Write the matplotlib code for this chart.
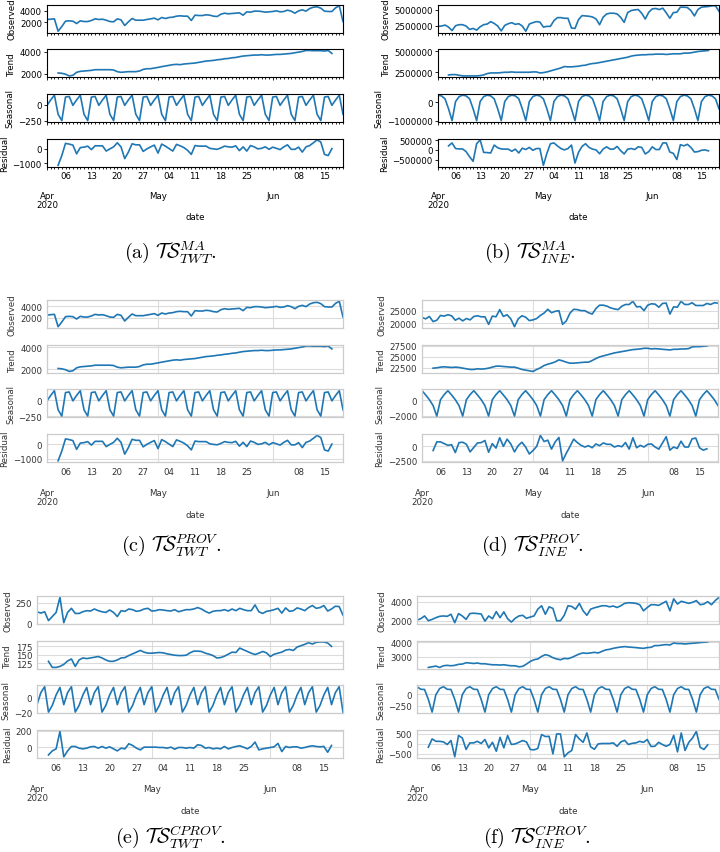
import numpy as np
import pandas as pd
import matplotlib
matplotlib.use("Agg")
import matplotlib.pyplot as plt
import matplotlib.dates as mdates
from matplotlib.ticker import FuncFormatter

plt.rcParams["mathtext.fontset"] = "cm"

nan = np.nan
DATES = pd.date_range("2020-04-01", "2020-06-20", freq="D")
COMPONENTS = ["Observed", "Trend", "Seasonal", "Residual"]

# ---- TS_TWT (panels a and c) ----
OBS_A = [2460, 2510, 2570, 450, 1260, 2170, 2230, 2170, 1770, 2230,
         2110, 2110, 2290, 2570, 2460, 2510, 2340, 2110, 2060, 2570,
         2400, 1430, 2060, 2630, 2340, 2340, 2340, 2460, 2570, 2690,
         2400, 2800, 2630, 2800, 2860, 3030, 3090, 3030, 3030, 2290,
         3200, 3140, 3140, 3260, 3200, 3030, 2970, 3370, 3540, 3430,
         3490, 3540, 3600, 3200, 3770, 3710, 3890, 3890, 3830, 3710,
         3770, 3830, 3940, 3770, 3830, 4060, 3890, 3540, 3940, 4110,
         3890, 4340, 4570, 4630, 4400, 3890, 3830, 3830, 4460, 4810, 2100]
TREND_A = [nan, nan, nan,
           2060, 2030, 1950, 1790, 1850, 2120, 2210,
           2240, 2270, 2300, 2360, 2360, 2360, 2360, 2360, 2330, 2180,
           2120, 2150, 2180, 2180, 2180, 2240, 2390, 2450, 2450, 2510,
           2570, 2640, 2700, 2760, 2820, 2850, 2820, 2880, 2910, 2940,
           2970, 3030, 3090, 3150, 3180, 3210, 3270, 3300, 3360, 3390,
           3450, 3480, 3550, 3610, 3640, 3670, 3700, 3700, 3730, 3700,
           3700, 3730, 3760, 3760, 3790, 3820, 3850, 3910, 3970, 4030,
           4120, 4120, 4100, 4100, 4100, 4070, 4120, 3850,
           nan, nan, nan]
SEAS_A = [-10, 75, 150, -150, -250, 120, 130,
          -10, 75, 150, -150, -250, 120, 130,
          -10, 75, 150, -150, -250, 120, 130,
          -10, 75, 150, -150, -250, 120, 130,
          -10, 75, 150, -150, -250, 120, 130,
          -10, 75, 150, -150, -250, 120, 130,
          -10, 75, 150, -150, -250, 120, 130,
          -10, 75, 150, -150, -250, 120, 130,
          -10, 75, 150, -150, -250, 120, 130,
          -10, 75, 150, -150, -250, 120, 130,
          -10, 75, 150, -150, -250, 120, 130,
          -10, 75, 150, -150]
RESID_A = [nan, nan, nan,
           -1150, -480, 360, 310, 240, -360, 70,
           100, 170, -70, 190, 190, 190, -170, -20, 120, 400,
           120, -690, -240, 330, 260, 260, -190, -20, 120, 240,
           -310, 310, 170, 0, -170, 290, 190, 70, -120, -400,
           210, 170, 170, 170, 20, -20, -50, 50, 170, 120,
           100, 190, -140, 120, -170, 210, 120, -20, 20, 120,
           -50, 100, 20, -70, 120, 260, -50, -50, 100, -240,
           120, 210, 400, 600, 450, -400, -480, 0,
           nan, nan, nan]
YTICKS_A = [[2000, 4000], [2000, 4000], [-250, 0], [-1000, 0]]

# ---- TS_INE (panel b) ----
OBS_B = [2.40e6, 2.45e6, 2.60e6, 2.29e6, 1.75e6, 2.50e6, 2.66e6, 2.66e6, 2.45e6, 1.93e6,
         2.08e6, 1.82e6, 2.34e6, 2.66e6, 2.76e6, 3.13e6, 2.86e6, 2.45e6, 1.70e6, 2.55e6,
         2.81e6, 2.97e6, 2.71e6, 2.81e6, 2.45e6, 1.65e6, 2.76e6, 2.97e6, 3.13e6, 3.07e6,
         2.29e6, 2.40e6, 2.40e6, 3.28e6, 3.75e6, 3.75e6, 3.65e6, 3.65e6, 2.14e6, 2.08e6,
         3.44e6, 4.06e6, 4.01e6, 3.96e6, 3.85e6, 3.54e6, 2.66e6, 3.80e6, 4.32e6, 4.43e6,
         4.43e6, 4.32e6, 3.80e6, 3.02e6, 4.53e6, 4.84e6, 4.95e6, 5.00e6, 4.43e6, 3.54e6,
         4.58e6, 5.10e6, 5.16e6, 5.00e6, 5.21e6, 4.48e6, 3.65e6, 4.53e6, 4.58e6, 5.36e6,
         5.36e6, 5.31e6, 4.84e6, 4.01e6, 5.00e6, 5.36e6, 5.42e6, 5.47e6, 5.58e6, 5.57e6, 4.74e6]
TREND_B = [nan, nan, nan,
           2.18e6, 2.22e6, 2.22e6, 2.14e6, 2.06e6, 2.06e6, 2.06e6,
           2.06e6, 2.06e6, 2.10e6, 2.18e6, 2.34e6, 2.42e6, 2.42e6, 2.42e6, 2.46e6, 2.50e6,
           2.50e6, 2.54e6, 2.50e6, 2.50e6, 2.50e6, 2.50e6, 2.50e6, 2.54e6, 2.54e6, 2.42e6,
           2.46e6, 2.54e6, 2.66e6, 2.78e6, 2.90e6, 3.02e6, 3.19e6, 3.15e6, 3.15e6, 3.19e6,
           3.23e6, 3.31e6, 3.35e6, 3.47e6, 3.55e6, 3.59e6, 3.67e6, 3.75e6, 3.83e6, 3.91e6,
           3.99e6, 4.07e6, 4.15e6, 4.23e6, 4.31e6, 4.44e6, 4.52e6, 4.56e6, 4.60e6, 4.60e6,
           4.64e6, 4.64e6, 4.68e6, 4.68e6, 4.68e6, 4.64e6, 4.68e6, 4.72e6, 4.72e6, 4.72e6,
           4.80e6, 4.80e6, 4.84e6, 4.92e6, 5.00e6, 5.04e6, 5.08e6, 5.12e6,
           nan, nan, nan]
SEAS_B = [4.0e5, 3.6e5, 2.0e5, -3.5e5, -1.0e6, 0.5e5, 3.2e5,
          4.0e5, 3.6e5, 2.0e5, -3.5e5, -1.0e6, 0.5e5, 3.2e5,
          4.0e5, 3.6e5, 2.0e5, -3.5e5, -1.0e6, 0.5e5, 3.2e5,
          4.0e5, 3.6e5, 2.0e5, -3.5e5, -1.0e6, 0.5e5, 3.2e5,
          4.0e5, 3.6e5, 2.0e5, -3.5e5, -1.0e6, 0.5e5, 3.2e5,
          4.0e5, 3.6e5, 2.0e5, -3.5e5, -1.0e6, 0.5e5, 3.2e5,
          4.0e5, 3.6e5, 2.0e5, -3.5e5, -1.0e6, 0.5e5, 3.2e5,
          4.0e5, 3.6e5, 2.0e5, -3.5e5, -1.0e6, 0.5e5, 3.2e5,
          4.0e5, 3.6e5, 2.0e5, -3.5e5, -1.0e6, 0.5e5, 3.2e5,
          4.0e5, 3.6e5, 2.0e5, -3.5e5, -1.0e6, 0.5e5, 3.2e5,
          4.0e5, 3.6e5, 2.0e5, -3.5e5, -1.0e6, 0.5e5, 3.2e5,
          4.0e5, 3.6e5, 2.0e5, -3.5e5]
RESID_B = [nan, nan, nan,
           0.21e6, 0.36e6, 0.07e6, 0.05e6, 0.05e6, -0.09e6, -0.36e6,
           -0.59e6, 0.32e6, 0.52e6, -0.13e6, -0.14e6, -0.16e6, 0.25e6, 0.11e6, 0.05e6, 0.04e6,
           0.04e6, -0.07e6, 0.04e6, -0.16e6, 0.09e6, 0.02e6, 0.13e6, -0.02e6, 0.07e6, 0.07e6,
           -0.80e6, -0.18e6, 0.32e6, 0.36e6, 0.21e6, 0.07e6, 0.00e6, 0.07e6, 0.25e6, -0.68e6,
           -0.13e6, 0.18e6, 0.32e6, 0.13e6, 0.04e6, 0.00e6, -0.20e6, 0.04e6, 0.16e6, 0.04e6,
           0.04e6, 0.18e6, -0.04e6, -0.21e6, 0.04e6, 0.07e6, 0.02e6, 0.16e6, 0.13e6, -0.21e6,
           -0.09e6, 0.16e6, 0.02e6, 0.02e6, 0.36e6, 0.36e6, -0.11e6, -0.18e6, -0.50e6, 0.27e6,
           0.21e6, 0.29e6, 0.13e6, -0.11e6, -0.09e6, -0.02e6, 0.00e6, -0.05e6,
           nan, nan, nan]
YTICKS_B = [[2500000, 5000000], [2500000, 5000000], [-1000000, 0],
            [-500000, 0, 500000]]

# ---- TS_INE by province (panel d) ----
OBS_D = [22300, 21760, 22700, 20680, 21220, 23110, 22840, 23380, 22970, 21220,
         22030, 20950, 21890, 21350, 22700, 22970, 22570, 22570, 19590, 22840,
         22570, 25400, 22700, 23380, 21760, 18650, 21760, 22970, 22430, 21080,
         21350, 21890, 23110, 24050, 25540, 24190, 24730, 25000, 19590, 20950,
         24050, 25540, 25400, 25000, 25000, 24190, 23650, 25810, 27160, 27160,
         26760, 26080, 25680, 25400, 26760, 27430, 27430, 28700, 26490, 26620,
         25000, 27160, 27700, 27570, 26350, 27840, 27970, 23650, 26490, 26350,
         28700, 27430, 27430, 28110, 27030, 27030, 27030, 27840, 27430, 28110, 27970]
TREND_D = [nan, nan, nan,
           22420, 22500, 22650, 22730, 22650, 22580, 22650,
           22580, 22420, 22270, 22120, 22120, 22270, 22200, 22270, 22420, 22650,
           22880, 22880, 22800, 22730, 22650, 22650, 22420, 22120, 21970, 21820,
           21670, 22120, 22500, 23030, 23330, 23560, 23860, 24320, 24090, 23790,
           23560, 23560, 23640, 23710, 23790, 23790, 24170, 24620, 25000, 25230,
           25450, 25680, 25910, 26060, 26210, 26360, 26520, 26670, 26740, 26820,
           26970, 26970, 26820, 26890, 26820, 26740, 26670, 26590, 26740, 26740,
           26820, 26820, 26890, 27270, 27350, 27350, 27420, 27500,
           nan, nan, nan]
SEAS_D = [1200, 650, 50, -700, -2050, 50, 700,
          1200, 650, 50, -700, -2050, 50, 700,
          1200, 650, 50, -700, -2050, 50, 700,
          1200, 650, 50, -700, -2050, 50, 700,
          1200, 650, 50, -700, -2050, 50, 700,
          1200, 650, 50, -700, -2050, 50, 700,
          1200, 650, 50, -700, -2050, 50, 700,
          1200, 650, 50, -700, -2050, 50, 700,
          1200, 650, 50, -700, -2050, 50, 700,
          1200, 650, 50, -700, -2050, 50, 700,
          1200, 650, 50, -700, -2050, 50, 700,
          1200, 650, 50, -700]
RESID_D = [nan, nan, nan,
           -760, 700, 700, 410, 120, 230, -1100,
           580, 640, 290, -990, -230, 520, 580, 930, -1050, 410,
           -350, 1400, -60, 1160, 350, -990, 60, 640, -170, -1340,
           -760, -60, 1800, 760, 990, -520, 700, 1450, -2500, -1220,
           -60, 1160, 580, 120, -170, 60, -290, 350, 60, 520,
           290, 290, -170, 60, -120, 580, -520, 1400, -290, 120,
           -170, 290, 350, -170, -520, 520, 1570, -700, -170, -410,
           810, -170, -170, 1220, 1340, -290, -700, -470,
           nan, nan, nan]
YTICKS_D = [[20000, 25000], [22500, 25000, 27500], [-2000, 0], [-2500, 0]]

# ---- TS_TWT by capital of province (panel e) ----
OBS_E = [143, 127, 143, 37, 86, 135, 316, 12, 135, 184,
         123, 123, 143, 156, 152, 176, 156, 143, 135, 164,
         135, 86, 156, 148, 176, 168, 148, 156, 176, 184,
         152, 156, 168, 164, 156, 152, 168, 143, 156, 168,
         168, 176, 193, 176, 148, 127, 148, 156, 156, 168,
         152, 176, 156, 184, 168, 156, 156, 225, 143, 123,
         148, 156, 168, 184, 127, 189, 148, 156, 189, 176,
         156, 193, 217, 184, 193, 217, 152, 176, 209, 205, 102]
TREND_E = [nan, nan, nan,
           131, 113, 113, 116, 122, 132, 138,
           116, 135, 141, 139, 141, 143, 145, 141, 135, 131,
           131, 135, 141, 142, 148, 153, 158, 163, 158, 155,
           155, 156, 157, 156, 153, 151, 149, 148, 148, 149,
           156, 161, 161, 160, 155, 152, 148, 141, 142, 146,
           152, 158, 157, 170, 165, 160, 155, 151, 155, 160,
           156, 145, 152, 155, 158, 164, 166, 163, 173, 177,
           181, 186, 182, 187, 188, 188, 185, 175,
           nan, nan, nan]
SEAS_E = [-9, 7, 15, -19, -10, 4, 14,
          -9, 7, 15, -19, -10, 4, 14,
          -9, 7, 15, -19, -10, 4, 14,
          -9, 7, 15, -19, -10, 4, 14,
          -9, 7, 15, -19, -10, 4, 14,
          -9, 7, 15, -19, -10, 4, 14,
          -9, 7, 15, -19, -10, 4, 14,
          -9, 7, 15, -19, -10, 4, 14,
          -9, 7, 15, -19, -10, 4, 14,
          -9, 7, 15, -19, -10, 4, 14,
          -9, 7, 15, -19, -10, 4, 14,
          -9, 7, 15, -19]
RESID_E = [nan, nan, nan,
           -88, -40, -16, 190, -110, -40, 12,
           12, -8, -16, -8, 8, 12, -8, 12, -8, 8,
           -16, -40, -8, -16, 44, 24, -8, -28, 4, 4,
           4, 4, 0, 0, -8, 4, -20, 0, 0, -8,
           0, -8, 32, 24, -8, 0, -16, -8, -16, 12,
           -16, 0, 12, 20, 4, -16, 12, 64, -28, -16,
           -8, 0, 8, 48, -48, 12, 0, 8, 8, -8,
           0, 12, 20, 12, 8, 12, -56, 24,
           nan, nan, nan]
YTICKS_E = [[0, 250], [125, 150, 175], [-20, 0], [0, 200]]

# ---- TS_INE by capital of province (panel f) ----
OBS_F = [2070, 2210, 2500, 2000, 2140, 2320, 2460, 2500, 2460, 2680,
         1790, 2750, 2500, 2140, 2750, 2790, 2750, 2710, 1960, 2500,
         2210, 2960, 2320, 2930, 2210, 1860, 2250, 2500, 2570, 2250,
         2390, 2500, 3210, 3570, 2680, 3460, 3290, 2000, 2000, 2570,
         3570, 3500, 3210, 3820, 3040, 2570, 3210, 3360, 3460, 3570,
         3570, 3460, 3540, 3390, 3570, 3820, 3890, 3860, 3820, 3680,
         3040, 3390, 3680, 3680, 3610, 3820, 4040, 3040, 4290, 3750,
         4040, 3930, 3820, 3930, 4110, 3680, 3750, 4000, 3680, 4110, 4460]
TREND_F = [nan, nan, nan,
           2256, 2300, 2350, 2256, 2370, 2400, 2370,
           2400, 2470, 2490, 2580, 2560, 2530, 2560, 2510, 2510, 2470,
           2440, 2440, 2420, 2440, 2400, 2370, 2370, 2300, 2330, 2490,
           2670, 2790, 2840, 3020, 3140, 3070, 2930, 2840, 2790, 2880,
           2860, 2950, 3070, 3190, 3260, 3230, 3260, 3300, 3260, 3370,
           3470, 3510, 3580, 3630, 3670, 3700, 3670, 3650, 3630, 3600,
           3580, 3630, 3650, 3770, 3770, 3810, 3840, 3810, 3950, 3910,
           3910, 3880, 3910, 3930, 3950, 3980, 4000, 4020,
           nan, nan, nan]
SEAS_F = [160, 105, 100, -110, -380, -10, 120,
          160, 105, 100, -110, -380, -10, 120,
          160, 105, 100, -110, -380, -10, 120,
          160, 105, 100, -110, -380, -10, 120,
          160, 105, 100, -110, -380, -10, 120,
          160, 105, 100, -110, -380, -10, 120,
          160, 105, 100, -110, -380, -10, 120,
          160, 105, 100, -110, -380, -10, 120,
          160, 105, 100, -110, -380, -10, 120,
          160, 105, 100, -110, -380, -10, 120,
          160, 105, 100, -110, -380, -10, 120,
          160, 105, 100, -110]
RESID_F = [nan, nan, nan,
           -170, 250, 130, 130, 100, -30, 170,
           -650, 420, 300, -280, 50, 50, 130, 20, 220, -200,
           80, -370, 330, -200, 420, -30, 0, 80, 170, 100,
           -280, -300, -230, 470, 370, 380, -500, 500, 500, -650,
           -450, -330, 470, 250, 80, 550, -150, -270, 0, 20,
           20, 20, 50, -120, 100, 180, -30, 30, 50, 130,
           80, 220, -130, -120, 80, -30, -120, -30, 430, -400,
           550, -330, 80, 300, 630, -170, -280, -50,
           nan, nan, nan]
YTICKS_F = [[2000, 4000], [3000, 4000], [-250, 0], [-500, 0, 500]]

CAPTIONS = [r"$\mathrm{(a)}\ \mathcal{TS}^{MA}_{TWT}.$",
            r"$\mathrm{(b)}\ \mathcal{TS}^{MA}_{INE}.$",
            r"$\mathrm{(c)}\ \mathcal{TS}^{PROV}_{TWT}.$",
            r"$\mathrm{(d)}\ \mathcal{TS}^{PROV}_{INE}.$",
            r"$\mathrm{(e)}\ \mathcal{TS}^{CPROV}_{TWT}.$",
            r"$\mathrm{(f)}\ \mathcal{TS}^{CPROV}_{INE}.$"]

# layout in pixels
W, H = 720, 853
AX_H = 28
AX_STEP = 44.7
FS = 6.2
LINE = "#1f77b4"

fig = plt.figure(figsize=(W / 100, H / 100), dpi=100)


def day_label(x, pos):
    d = mdates.num2date(x)
    return d.strftime("%d") if (d.weekday() == 0 and d.day != 1) else ""


def month_label(x, pos):
    d = mdates.num2date(x)
    if d.date() == DATES[0].date():
        return d.strftime("%b\n%Y")
    return d.strftime("%b")


def num_label(v, pos):
    return f"{v:.0f}".replace("-", "\u2212")


def draw_panel(left, right, top, series, yticks, classic):
    tc = "black" if classic else "#333333"
    for k, (name, vals, ticks) in enumerate(zip(COMPONENTS, series, yticks)):
        y0 = top + k * AX_STEP
        ax = fig.add_axes([left / W, 1 - (y0 + AX_H) / H,
                           (right - left) / W, AX_H / H])
        ax.plot(DATES, vals, color=LINE, lw=1.2)
        ax.set_xlim(DATES[0], DATES[-1])
        ax.set_yticks(ticks)
        ax.yaxis.set_major_formatter(FuncFormatter(num_label))
        ax.xaxis.set_major_locator(mdates.MonthLocator())
        ax.xaxis.set_minor_locator(mdates.DayLocator())
        ax.set_ylabel(name, fontsize=FS, color=tc, labelpad=2.5)
        if classic:
            for s in ax.spines.values():
                s.set_color("black")
                s.set_linewidth(0.8)
            ax.tick_params(axis="both", which="both", direction="out",
                           length=2.2, width=0.6, pad=1.5, labelsize=FS,
                           colors="black")
            ax.tick_params(axis="x", which="minor", length=1.5)
            pmin, pmaj = 1.8, 15.5
        else:
            ax.set_axisbelow(True)
            for s in ax.spines.values():
                s.set_color("#cccccc")
                s.set_linewidth(0.9)
            ax.grid(True, which="major", color="#dcdcdc", lw=0.8)
            ax.tick_params(axis="both", which="both", length=0, pad=3.5,
                           labelsize=FS, labelcolor=tc)
            pmin, pmaj = 3.8, 19.0
        if k < 3:
            ax.tick_params(axis="x", which="both", labelbottom=False)
        else:
            ax.xaxis.set_major_formatter(FuncFormatter(month_label))
            ax.xaxis.set_minor_formatter(FuncFormatter(day_label))
            ax.tick_params(axis="x", which="minor", pad=pmin)
            ax.tick_params(axis="x", which="major", pad=pmaj)
            plt.setp(ax.xaxis.get_majorticklabels(), linespacing=0.95)
            ax.set_xlabel("date", fontsize=FS, color=tc, labelpad=2.5)


PANELS = [
    (47, 343, 5.5, (OBS_A, TREND_A, SEAS_A, RESID_A), YTICKS_A, True),
    (438, 719, 5.5, (OBS_B, TREND_B, SEAS_B, RESID_B), YTICKS_B, True),
    (47, 343, 301, (OBS_A, TREND_A, SEAS_A, RESID_A), YTICKS_A, False),
    (422, 718, 301, (OBS_D, TREND_D, SEAS_D, RESID_D), YTICKS_D, False),
    (37, 343, 597, (OBS_E, TREND_E, SEAS_E, RESID_E), YTICKS_E, False),
    (417, 719, 597, (OBS_F, TREND_F, SEAS_F, RESID_F), YTICKS_F, False),
]
CAPTION_POS = [(170, 252), (530, 252), (171, 545), (532, 545),
               (170, 837), (537, 837)]

for (l, r, t, series, yt, classic) in PANELS:
    draw_panel(l, r, t, series, yt, classic)

for text, (cx, cy) in zip(CAPTIONS, CAPTION_POS):
    fig.text(cx / W, 1 - cy / H, text, ha="center", va="center",
             fontsize=14.5)

fig.savefig("out.png", dpi=100)
